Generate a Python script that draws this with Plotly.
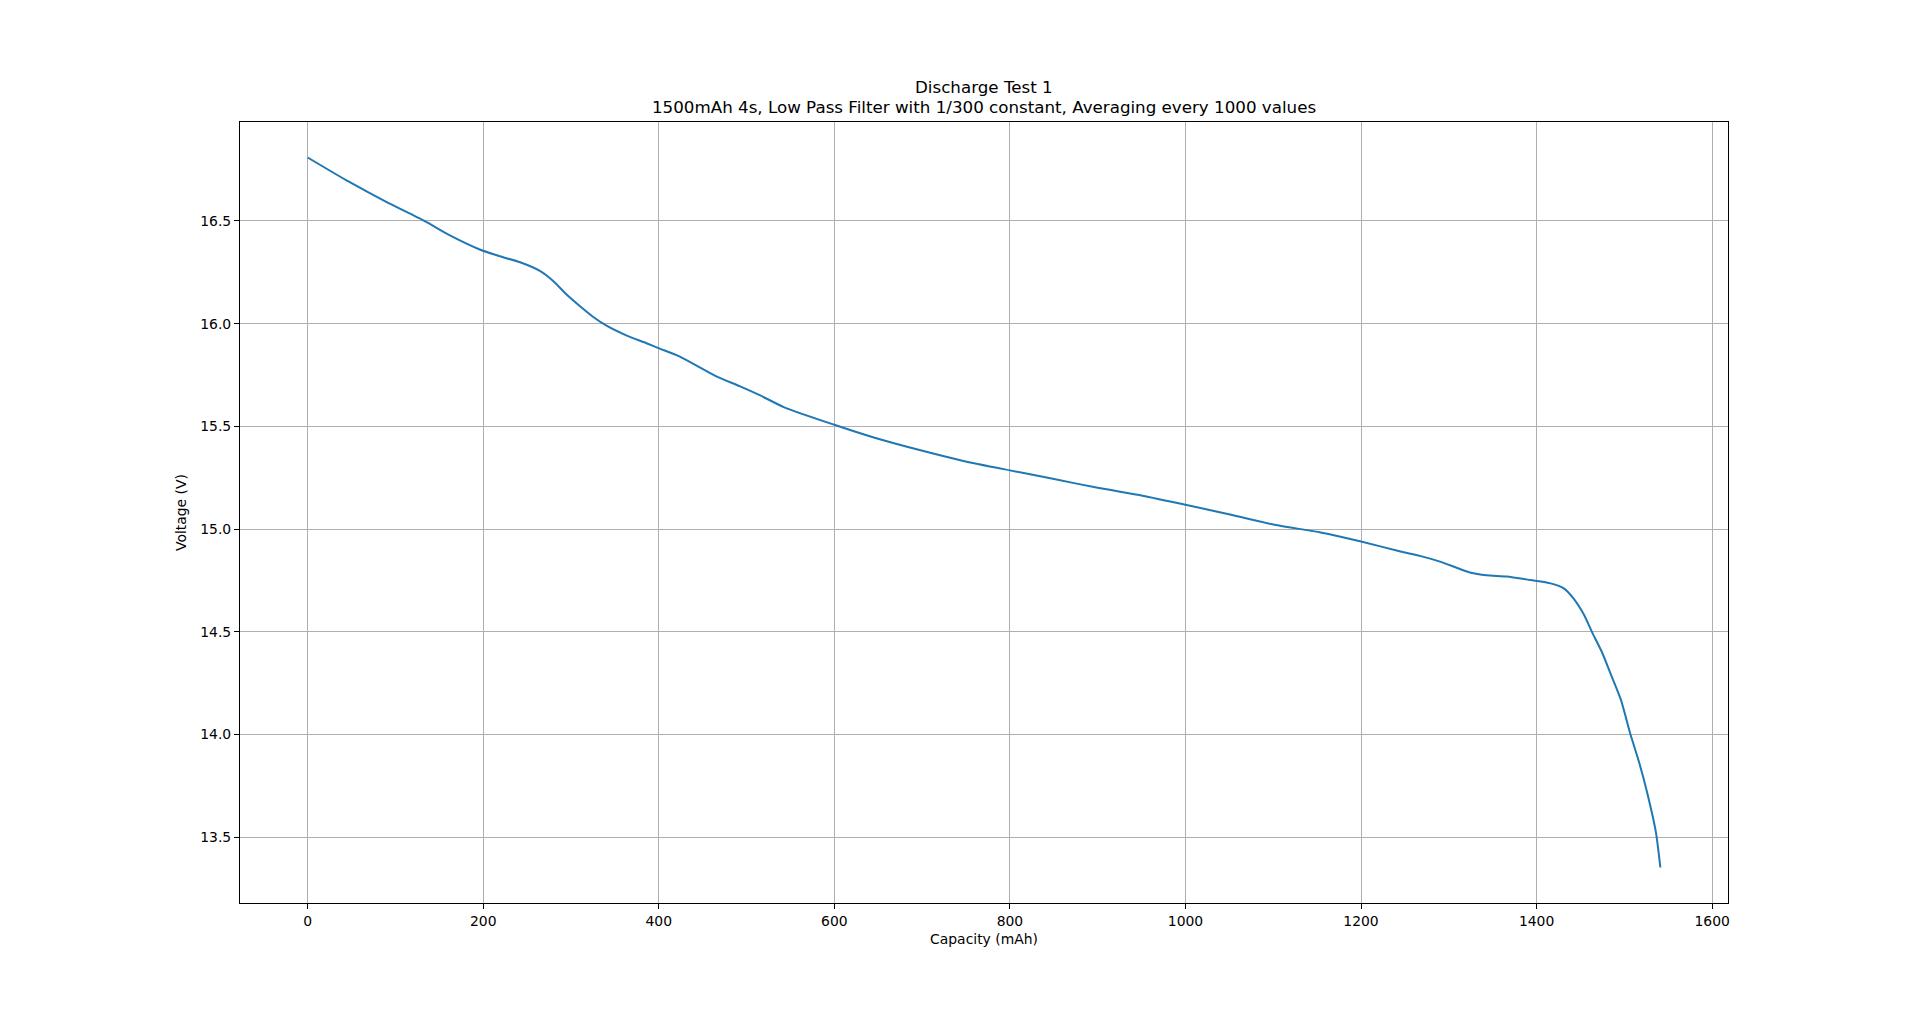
import plotly.graph_objects as go

# =====================================
# DATA
# =====================================

capacity_mah = [
    0, 47, 89, 133, 161, 196, 219, 242, 265, 280, 295, 310, 325, 341, 363,
    386, 401, 424, 465, 492, 515, 543, 600, 645, 696, 747, 800, 849, 900, 951,
    1000, 1052, 1103, 1154, 1200, 1245, 1267, 1290, 1324, 1343, 1366, 1393,
    1416, 1431, 1442, 1454, 1463, 1475, 1484, 1496, 1507, 1517, 1526, 1536, 1541,
]

voltage_v = [
    16.809, 16.691, 16.594, 16.500, 16.432, 16.361, 16.328, 16.299, 16.256,
    16.207, 16.142, 16.086, 16.034, 15.989, 15.943, 15.905, 15.879, 15.840,
    15.745, 15.696, 15.652, 15.593, 15.508, 15.446, 15.386, 15.332, 15.286,
    15.245, 15.201, 15.163, 15.119, 15.070, 15.020, 14.984, 14.940, 14.891,
    14.870, 14.842, 14.789, 14.775, 14.770, 14.752, 14.736, 14.712, 14.663,
    14.583, 14.500, 14.396, 14.299, 14.170, 14.000, 13.862, 13.717, 13.523,
    13.353,
]

x_ticks = [0, 200, 400, 600, 800, 1000, 1200, 1400, 1600]
y_ticks = [13.5, 14.0, 14.5, 15.0, 15.5, 16.0, 16.5]

title_line1 = "Discharge Test 1"
title_line2 = "1500mAh 4s, Low Pass Filter with 1/300 constant, Averaging every 1000 values"

FONT = "DejaVu Sans"

# =====================================
# PLOT
# =====================================

fig = go.Figure()

fig.add_trace(
    go.Scatter(
        x=capacity_mah,
        y=voltage_v,
        mode="lines",
        line=dict(color="#1f77b4", width=2, shape="spline", smoothing=0.6),
        showlegend=False
    )
)

# matplotlib-style 5% margins
x_span = max(capacity_mah) - min(capacity_mah)
y_span = max(voltage_v) - min(voltage_v)

# page body has an 8px margin, so the figure is a bit smaller than the window
fig.update_layout(
    width=1904,
    height=999,
    margin=dict(l=232, r=184, t=114, b=104),
    paper_bgcolor="white",
    plot_bgcolor="white",
    font=dict(family=FONT, size=13.9, color="black"),
    annotations=[
        dict(text=title_line1, xref="paper", yref="paper", x=0.5, y=1.0452,
             showarrow=False, xanchor="center", yanchor="middle",
             font=dict(size=16.7)),
        dict(text=title_line2, xref="paper", yref="paper", x=0.5, y=1.0196,
             showarrow=False, xanchor="center", yanchor="middle",
             font=dict(size=16.7)),
    ]
)

fig.update_xaxes(
    range=[min(capacity_mah) - 0.05 * x_span, max(capacity_mah) + 0.05 * x_span],
    tickvals=x_ticks,
    ticks="outside",
    ticklen=5,
    tickcolor="black",
    showgrid=True,
    gridcolor="#b0b0b0",
    gridwidth=1,
    zeroline=False,
    showline=True,
    linecolor="black",
    linewidth=1,
    mirror=True,
    title=dict(text="Capacity (mAh)", standoff=6, font=dict(size=13.9))
)

fig.update_yaxes(
    range=[min(voltage_v) - 0.05 * y_span, max(voltage_v) + 0.05 * y_span],
    tickvals=y_ticks,
    tickformat=".1f",
    ticks="outside",
    ticklen=5,
    tickcolor="black",
    showgrid=True,
    gridcolor="#b0b0b0",
    gridwidth=1,
    zeroline=False,
    showline=True,
    linecolor="black",
    linewidth=1,
    mirror=True,
    title=dict(text="Voltage (V)", standoff=10, font=dict(size=13.9))
)

fig.write_html("out.html")
